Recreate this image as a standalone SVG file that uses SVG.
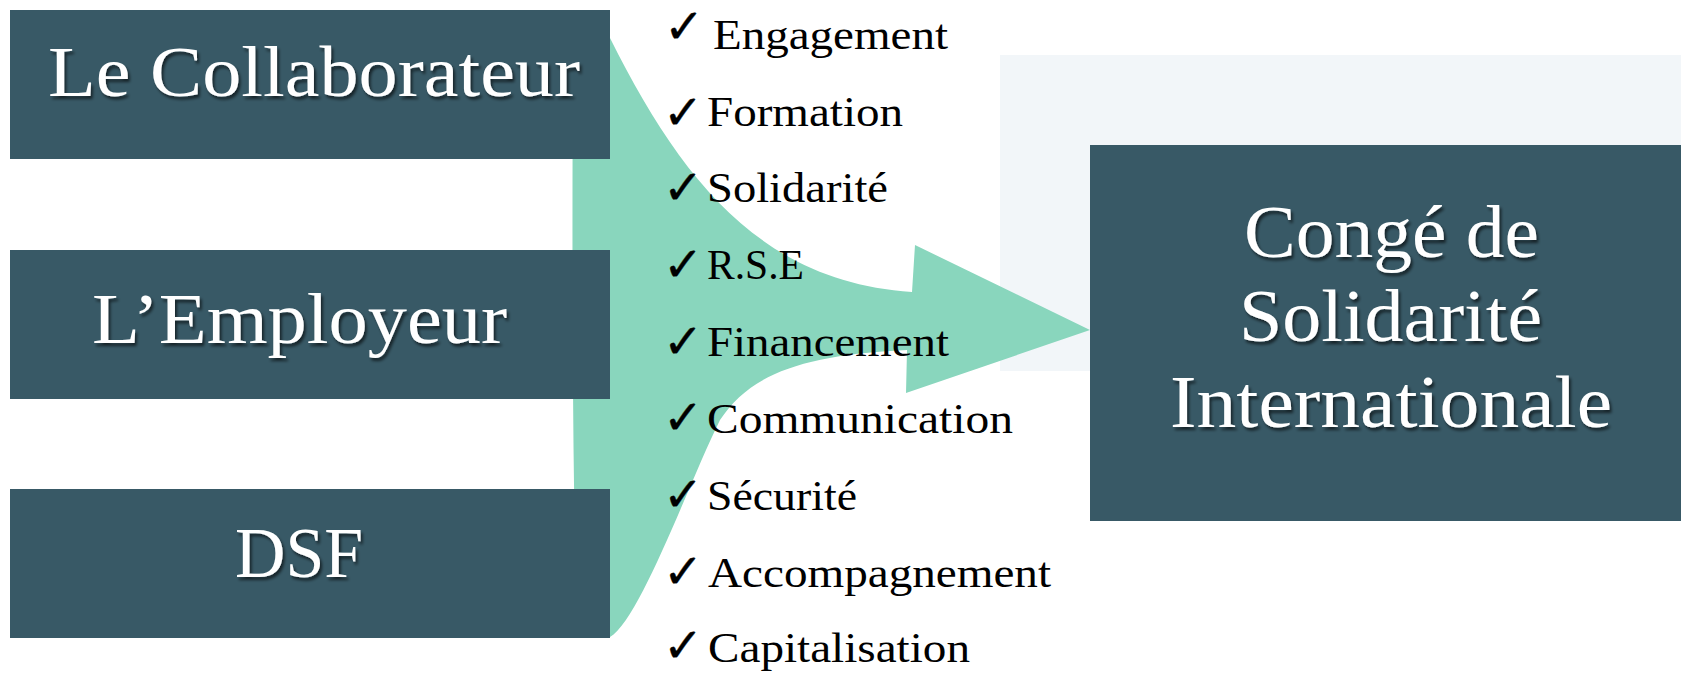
<svg xmlns="http://www.w3.org/2000/svg" width="1681" height="673" viewBox="0 0 1681 673">
  <defs>
    <filter id="shadow" x="-10%" y="-20%" width="120%" height="140%">
      <feDropShadow dx="2" dy="3" stdDeviation="1.5" flood-color="#000" flood-opacity="0.6"/>
    </filter>
  </defs>
  <style>
    .box { fill: #385966; }
    .boxtext { font-family: "Liberation Serif", "DejaVu Serif", serif; fill: #ffffff; filter: url(#shadow); }
    .item { font-family: "Liberation Serif", "DejaVu Serif", serif; font-size: 42px; fill: #000; }
    .check { font-family: "DejaVu Sans", sans-serif; font-size: 48px; fill: #000; stroke: #000; stroke-width: 0.4; }
  </style>
  <rect x="1000" y="55" width="681" height="316" fill="#F2F6F9"/>
  <g id="connectors">
    <path d="M 573 38 L 610 38 C 680 178 760 282 912 292 L 915 245 L 1090 330 L 906 393 L 907 350 C 800 355 750 375 720 420 C 690 480 640 620 610 637 L 577 637 C 572 450 572 250 573 38 Z" fill="#89D6BD"/>
  </g>
  <g id="node-collaborateur">
    <rect class="box" x="10" y="10" width="600" height="149"/>
    <text class="boxtext" x="48" y="96" font-size="72" textLength="532" lengthAdjust="spacingAndGlyphs">Le Collaborateur</text>
  </g>
  <g id="node-employeur">
    <rect class="box" x="10" y="250" width="600" height="149"/>
    <text class="boxtext" x="92" y="343" font-size="72" textLength="415" lengthAdjust="spacingAndGlyphs">L’Employeur</text>
  </g>
  <g id="node-dsf">
    <rect class="box" x="10" y="489" width="600" height="149"/>
    <text class="boxtext" x="235" y="577" font-size="72" textLength="128" lengthAdjust="spacingAndGlyphs">DSF</text>
  </g>
  <g id="node-conge">
    <rect class="box" x="1090" y="145" width="600" height="376"/>
    <text class="boxtext" x="1244" y="257" font-size="74" textLength="295" lengthAdjust="spacingAndGlyphs">Congé de</text>
    <text class="boxtext" x="1239" y="341" font-size="74" textLength="303" lengthAdjust="spacingAndGlyphs">Solidarité</text>
    <text class="boxtext" x="1170" y="427" font-size="74" textLength="442" lengthAdjust="spacingAndGlyphs">Internationale</text>
  </g>
  <g id="list">
    <text class="check" x="664" y="43">✓</text>
    <text class="item" x="713" y="49" textLength="235" lengthAdjust="spacingAndGlyphs">Engagement</text>
    <text class="check" x="663" y="129">✓</text>
    <text class="item" x="707" y="126" textLength="196" lengthAdjust="spacingAndGlyphs">Formation</text>
    <text class="check" x="663" y="204">✓</text>
    <text class="item" x="707" y="202" textLength="181" lengthAdjust="spacingAndGlyphs">Solidarité</text>
    <text class="check" x="663" y="281">✓</text>
    <text class="item" x="707" y="279" textLength="97" lengthAdjust="spacingAndGlyphs">R.S.E</text>
    <text class="check" x="663" y="358">✓</text>
    <text class="item" x="707" y="356" textLength="242" lengthAdjust="spacingAndGlyphs">Financement</text>
    <text class="check" x="663" y="434">✓</text>
    <text class="item" x="707" y="433" textLength="306" lengthAdjust="spacingAndGlyphs">Communication</text>
    <text class="check" x="663" y="511">✓</text>
    <text class="item" x="707" y="510" textLength="150" lengthAdjust="spacingAndGlyphs">Sécurité</text>
    <text class="check" x="663" y="588">✓</text>
    <text class="item" x="708" y="587" textLength="343" lengthAdjust="spacingAndGlyphs">Accompagnement</text>
    <text class="check" x="663" y="662">✓</text>
    <text class="item" x="708" y="662" textLength="262" lengthAdjust="spacingAndGlyphs">Capitalisation</text>
  </g>
</svg>
